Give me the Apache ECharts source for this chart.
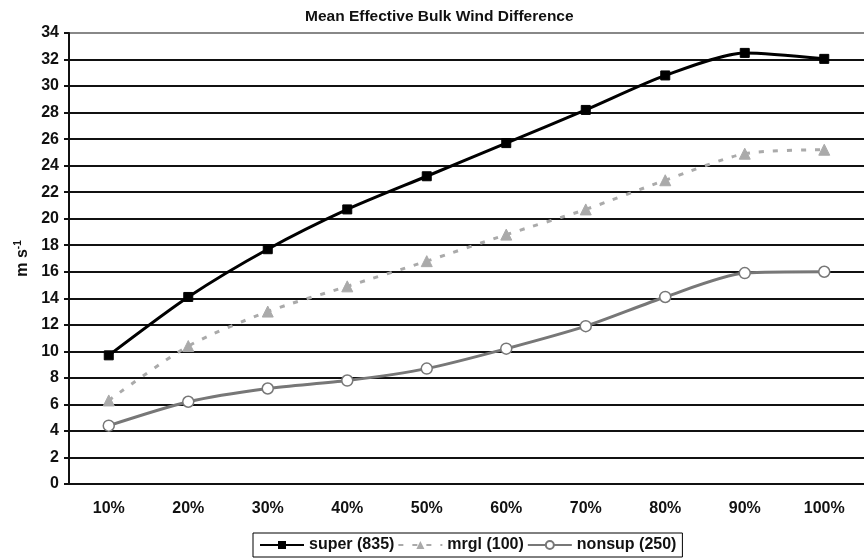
<!DOCTYPE html>
<html>
<head>
<meta charset="utf-8">
<script src="https://cdn.jsdelivr.net/npm/echarts@6/dist/echarts.min.js"></script>
<style>
  html, body { margin: 0; padding: 0; background: #fff; }
  #chart { width: 864px; height: 559px; }
</style>
</head>
<body>
<div id="chart"></div>
<script>
  var categories = ['10%', '20%', '30%', '40%', '50%', '60%', '70%', '80%', '90%', '100%'];
  var superVals = [9.7, 14.1, 17.7, 20.7, 23.2, 25.7, 28.2, 30.8, 32.5, 32.05];
  var mrglVals = [6.3, 10.4, 13.0, 14.9, 16.8, 18.8, 20.7, 22.9, 24.9, 25.2];
  var nonsupVals = [4.4, 6.2, 7.2, 7.8, 8.7, 10.2, 11.9, 14.1, 15.9, 16.0];

  // grid line colours: black, top edge grey
  var splitColors = [];
  for (var i = 0; i < 18; i++) splitColors.push(i === 17 ? '#888' : '#111');

  var chart = echarts.init(document.getElementById('chart'));
  chart.setOption({
    animation: false,
    textStyle: { fontFamily: 'Liberation Sans, Arial, sans-serif' },
    title: {
      text: 'Mean Effective Bulk Wind Difference',
      left: 300,
      top: 4,
      textStyle: { fontSize: 15.5, fontWeight: 'bold', color: '#111' }
    },
    legend: {
      left: 253,
      top: 533,
      itemWidth: 44,
      itemHeight: 10,
      itemGap: 3,
      padding: [4, 6, 4, 6],
      borderColor: '#000',
      borderWidth: 1,
      textStyle: { fontSize: 16, fontWeight: 'bold', color: '#111' },
      data: ['super (835)', 'mrgl (100)', 'nonsup (250)']
    },
    grid: { left: 69, right: -5, top: 33, bottom: 75 },
    xAxis: {
      type: 'category',
      data: categories,
      axisLine: { lineStyle: { color: '#111', width: 2 } },
      axisTick: { length: 6, lineStyle: { color: '#111', width: 2 } },
      axisLabel: { fontSize: 16, fontWeight: 'bold', color: '#111', margin: 17 }
    },
    yAxis: {
      type: 'value',
      min: 0,
      max: 34,
      interval: 2,
      name: '{a|m s}{b|-1}',
      nameLocation: 'middle',
      nameRotate: 90,
      nameGap: 37,
      nameTextStyle: {
        rich: {
          a: { fontSize: 16, fontWeight: 'bold', color: '#111' },
          b: { fontSize: 10, fontWeight: 'bold', color: '#111', verticalAlign: 'top', padding: [0, 0, 8, 0] }
        }
      },
      axisLine: { show: true, lineStyle: { color: '#111', width: 2 } },
      axisTick: { show: true, length: 5, lineStyle: { color: '#111', width: 2 } },
      axisLabel: { fontSize: 16, fontWeight: 'bold', color: '#111', margin: 10 },
      splitLine: { show: true, lineStyle: { color: splitColors, width: 1.8 } }
    },
    series: [
      {
        name: 'super (835)',
        type: 'line',
        data: superVals,
        smooth: 0.25,
        symbol: 'rect',
        symbolSize: 9,
        lineStyle: { color: '#000', width: 3 },
        itemStyle: { color: '#000', borderColor: '#000' },
        z: 4
      },
      {
        name: 'mrgl (100)',
        type: 'line',
        data: mrglVals,
        smooth: 0.25,
        symbol: 'triangle',
        symbolSize: 11,
        lineStyle: { color: '#aaa', width: 3, type: [5, 9] },
        itemStyle: { color: '#aaa', borderColor: '#aaa' },
        z: 3
      },
      {
        name: 'nonsup (250)',
        type: 'line',
        data: nonsupVals,
        smooth: 0.25,
        symbol: 'circle',
        symbolSize: 11,
        showAllSymbol: true,
        lineStyle: { color: '#777', width: 3 },
        itemStyle: { color: '#fff', borderColor: '#777', borderWidth: 1.5 },
        z: 3
      }
    ]
  });
</script>
</body>
</html>
